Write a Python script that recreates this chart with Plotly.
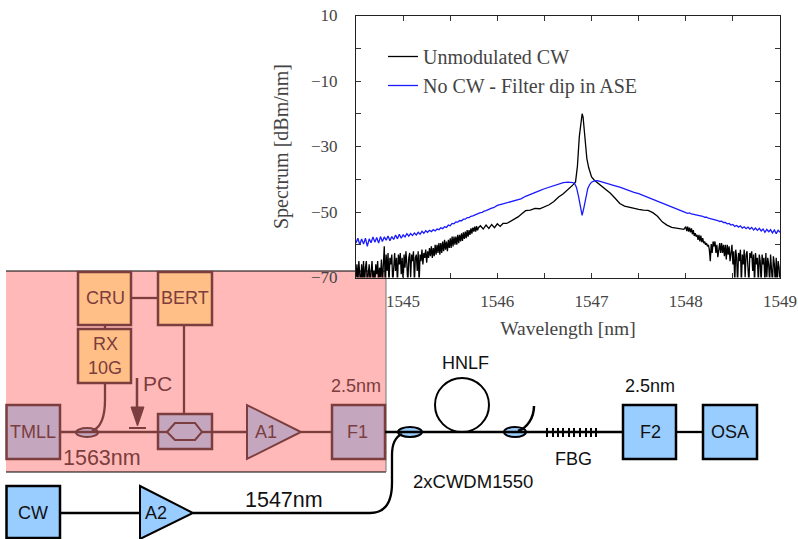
import numpy as np
import plotly.graph_objects as go

W, H = 798, 539

# ---------- spectrum data ----------
black_left_start, black_right_start, step_black = 1544.5, 1548.0, 0.01
black_left = [
 -70,-66,-72,-65,-69,-72,-66,-71,-65,-72,
 -67,-65,-72,-68,-66,-72,-67,-65,-71,-68,
 -72,-66,-69,-65,-72,-67,-70,-64.5,-72,-66,
 -60.5,-72,-63,-68,-62.5,-72,-64,-66,-63,-72,
 -65,-62.5,-68,-64,-72,-63,-66,-62.5,-69,-64,
 -72,-63,-67,-62,-66,-72,-64,-62.5,-70,-63,
 -65,-62,-72,-64,-63,-68,-62,-72,-63,-65,
 -61.5,-66,-62.5,-64,-61.5,-65.5,-62,-64,-61,-63.5,
 -60.5,-64,-61,-63.5,-60,-63,-60,-62.5,-59.5,-63,
 -59.5,-62.5,-59,-62,-58.5,-61.5,-59,-62,-58.5,-61,
 -58,-61,-57.5,-60.5,-57.5,-60,-57.5,-60,-57,-59.5,
 -57,-59,-56.5,-58.8,-56.2,-58.2,-56,-58,-55.5,-57.5,
 -55.5,-57,-55,-56.6,-54.8,-56,-54.5,-56,-54.3,-55.6,
 -54.8]
black_mid_x = [1545.82,1545.85,1545.88,1545.91,1545.94,1545.97,1546.0,1546.03,1546.06,1546.1,1546.14,1546.18,1546.22,1546.26,
 1546.3,1546.35,1546.4,1546.45,1546.5,1546.55,1546.6,1546.65,1546.7,1546.75,1546.8,1546.83,1546.85,1546.87,1546.89,1546.9,
 1546.91,1546.93,1546.94,1546.95,1546.97,1547.0,1547.03,1547.06,1547.1,1547.15,1547.2,1547.25,1547.3,1547.35,1547.4,
 1547.45,1547.5,1547.55,1547.6,1547.65,1547.7,1547.75,1547.8,1547.85,1547.9,1547.95,1547.98]
black_mid_y = [-54.2,-55.2,-54,-55,-53.8,-54.8,-53.6,-54.4,-53.5,-53.5,-52.9,-52.3,-51.5,-50.5,
 -49.6,-49.4,-48.9,-49,-48.4,-47.8,-46.8,-45.4,-44.4,-43.2,-41.8,-40.8,-36,-27,-21,-20,
 -21,-27,-30,-33.7,-36.5,-39.3,-40.3,-41,-42.2,-43.2,-44.3,-45.8,-47.4,-48.2,-48.6,
 -49,-49.2,-49.4,-49.5,-50.2,-51.3,-53,-54,-54.7,-55,-55.1,-55.3]
black_right = [
 -54.5,-55.8,-54.5,-56,-54.8,-56.2,-55,-56.8,-55.5,-57.3,
 -56.5,-57.5,-57,-58.5,-57,-59,-57.2,-59.2,-58,-59.5,
 -59,-60,-59.5,-60.5,-60,-61.5,-65,-59.8,-62.5,-59,
 -60.5,-59,-62.5,-60,-63.8,-60.5,-59.5,-62.5,-59.5,-62.5,
 -60,-63.5,-60,-64.5,-60,-63,-60.5,-65,-61,-60,
 -66,-62,-72,-61.5,-64,-72,-62.5,-65,-61.5,-72,
 -63,-66,-61.5,-70,-63,-62,-67,-72,-62.5,-64,
 -62,-68,-63,-72,-62.5,-66,-64,-72,-63,-65,
 -72,-63,-66,-64,-72,-62.5,-70,-64,-66,-72,
 -63,-67,-72,-63.5,-66,-72,-64,-72,-65,-67,
 -72]

blue_left_start, blue_right_start, step_blue = 1544.5, 1548.0, 0.02
blue_left = [
 -59.5,-58,-60,-58.2,-59.8,-58,-60.5,-58.2,-59.4,-57.6,
 -59.2,-57.8,-59.5,-57.5,-59,-57.6,-58.6,-57.3,-58.8,-57.5,
 -58.4,-57,-58.2,-56.8,-58,-57,-57.6,-56.6,-57.4,-56.6,
 -57.2,-56.4,-57,-56.2,-56.8,-55.9,-56.5,-55.7,-56.2,-55.6,
 -56,-55.4,-55.8,-55.2,-55.4,-54.8,-55.1,-54.5,-54.7,-54,
 -54.2,-53.5,-53.6,-53,-53.1,-52.6,-52.7,-52.2,-52.2,-51.7,
 -51.7,-51.3,-51.2,-50.9,-50.7,-50.5,-50.2,-50.1,-49.7,-49.6,
 -49.3,-49.1,-48.8,-48.7,-48.3]
blue_mid_x = [1546.0,1546.05,1546.1,1546.15,1546.2,1546.25,1546.3,1546.35,1546.4,1546.45,1546.5,1546.55,1546.6,1546.65,
 1546.7,1546.75,1546.8,1546.82,1546.84,1546.86,1546.88,1546.9,1546.92,1546.94,1546.96,1546.98,1547.0,1547.03,1547.06,
 1547.1,1547.15,1547.2,1547.25,1547.3,1547.35,1547.4,1547.45,1547.5,1547.55,1547.6,1547.65,1547.7,1547.75,1547.8,1547.85,1547.9,1547.95]
blue_mid_y = [-48.0,-47.6,-47.2,-46.8,-46.4,-46,-45.2,-44.7,-44,-43.5,-42.9,-42.4,-42,-41.4,
 -41,-40.9,-41,-41.3,-42.5,-45,-48.5,-51,-48.5,-45,-42.8,-41.6,-40.9,-40.5,-40.4,
 -40.7,-41.2,-41.5,-42,-42.4,-43,-43.4,-44,-44.4,-45,-45.6,-46.2,-46.8,-47.4,-47.8,-48.5,-49,-49.6]
blue_right = [
 -50.2,-50.4,-50.3,-50.6,-50.7,-50.8,-51,-51,-51.3,-51.3,
 -51.6,-51.6,-51.9,-52,-52.2,-52.2,-52.5,-52.6,-52.9,-52.8,
 -53.2,-53.2,-53.6,-53.5,-54,-53.8,-54.4,-54.1,-54.6,-54.2,
 -54.9,-54.5,-55.1,-54.6,-55.2,-54.7,-55.5,-54.9,-55.6,-55,
 -55.8,-55.2,-56.2,-55.3,-56,-55.4,-56.4,-55.5,-56.6,-55.6,-56.2]

series_names = ["Unmodulated CW", "No CW - Filter dip in ASE"]
x_ticks = [1544.5,1545,1545.5,1546,1546.5,1547,1547.5,1548,1548.5,1549]
x_labels = ["","1545","","1546","","1547","","1548","","1549"]
y_ticks = [10,0,-10,-20,-30,-40,-50,-60,-70]
y_labels = ["10","","\u221210","","\u221230","","\u221250","","\u221270"]

def grid(start, n, step):
    return list(np.round(start + step*np.arange(n), 3))

black_x = grid(black_left_start, len(black_left), step_black) + black_mid_x + grid(black_right_start, len(black_right), step_black)
black_y = black_left + black_mid_y + black_right
blue_x = grid(blue_left_start, len(blue_left), step_blue) + blue_mid_x + grid(blue_right_start, len(blue_right), step_blue)
blue_y = blue_left + blue_mid_y + blue_right

# ---------- diagram helpers (pixel positions converted to paper) ----------
def px(x): return x / W
def py(y): return 1 - y / H
def path(*cmds):
    out = []
    for c in cmds:
        if isinstance(c, str):
            out.append(c)
        else:
            out.append(f"{px(c[0]):.5f},{py(c[1]):.5f}")
    return " ".join(out)

INK = "#000000"; DIM = "#7b3d3d"
BLUE = "#99ccff"; BLEND = "#c4a6bf"; ORANGE = "#ffbf87"; PINK = "#ffb9b9"

shapes, notes = [], []
def add_path(p, color, width=2, fill=None):
    shapes.append(dict(type="path", path=p, xref="paper", yref="paper", layer="below",
                       line=dict(color=color, width=width), fillcolor=fill or "rgba(0,0,0,0)"))
def line(x0, y0, x1, y1, color, width=2.3):
    shapes.append(dict(type="line", xref="paper", yref="paper", layer="below",
                       x0=px(x0), y0=py(y0), x1=px(x1), y1=py(y1), line=dict(color=color, width=width)))
def box(x0, y0, x1, y1, color, fill):
    shapes.append(dict(type="rect", xref="paper", yref="paper", layer="below",
                       x0=px(x0), y0=py(y0), x1=px(x1), y1=py(y1), line=dict(color=color, width=2.5), fillcolor=fill))
def ell(x0, y0, x1, y1, color, fill, width=2):
    shapes.append(dict(type="circle", xref="paper", yref="paper", layer="below",
                       x0=px(x0), y0=py(y0), x1=px(x1), y1=py(y1), line=dict(color=color, width=width), fillcolor=fill))
def txt(x, y, s, color, size=18):
    notes.append(dict(text=s, xref="paper", yref="paper", x=px(x), y=py(y), xanchor="center", yanchor="middle",
                      showarrow=False, font=dict(family="Liberation Sans", size=size, color=color)))

# pink block
shapes.append(dict(type="rect", xref="paper", yref="paper", layer="below", x0=px(6), y0=py(271), x1=px(386), y1=py(472),
                   line=dict(width=0), fillcolor=PINK))
line(6, 271, 386, 271, "#000000", 1)
line(6, 472, 386, 472, "#000000", 1)
line(386, 271, 386, 472, "#777777", 1)

# dimmed (under the pink) part
ell(76, 428, 98, 437, DIM, BLEND)
line(60, 432, 158, 432, DIM); line(212, 432, 247, 432, DIM); line(301, 432, 332, 432, DIM)
line(131, 298, 158, 298, DIM); line(105, 325, 105, 329, DIM); line(184, 325, 184, 414, DIM)
add_path(path("M", (105, 383), "L", (105, 400), "C", (105, 418), (100, 428), (92, 431)), DIM, 2.3)
box(78, 272, 131, 325, DIM, ORANGE); box(158, 272, 212, 325, DIM, ORANGE); box(78, 329, 131, 383, DIM, ORANGE)
box(6.5, 405, 60, 459, DIM, BLEND); box(158, 414, 212, 449, DIM, BLEND); box(332, 405, 385, 459, DIM, BLEND)
line(158, 432, 167, 432, DIM); line(202, 432, 212, 432, DIM)
add_path(path("M", (167, 432), "L", (175, 423), "L", (195, 423), "L", (202, 432), "L", (195, 440), "L", (175, 440), "Z"), DIM, 2, BLEND)
add_path(path("M", (247, 405), "L", (247, 459), "L", (301, 432), "Z"), DIM, 2, BLEND)
line(137, 378, 137, 408, DIM, 2.5)
add_path(path("M", (131, 407), "L", (144, 407), "L", (137.5, 426), "Z"), DIM, 1, DIM)
line(129, 428, 146, 428, DIM, 2)

# solid part
ell(435, 378, 489, 432, INK, "rgba(0,0,0,0)")
ell(398, 427, 422, 437, INK, BLUE); ell(504, 427, 526, 437, INK, BLUE)
line(385, 432, 623, 432, INK); line(60, 513, 140, 513, INK); line(676, 432, 703, 432, INK)
add_path(path("M", (193, 513), "L", (370, 513), "C", (385, 513), (392, 503), (392, 483), "L", (392, 455), "C", (392, 445), (395, 437), (402, 434)), INK, 2.3)
add_path(path("M", (518, 431), "C", (527, 428), (534, 418), (534, 406)), INK, 2.5)
for fx in [547, 553, 558, 563, 569, 574, 580, 586, 591, 596]:
    line(fx, 428, fx, 437, INK, 2)
box(6.5, 486, 60, 538, INK, BLUE); box(623, 405, 676, 459, INK, BLUE); box(703, 405, 757, 459, INK, BLUE)
add_path(path("M", (140, 486), "L", (140, 539), "L", (193, 513), "Z"), INK, 2, BLUE)

for (x, y, s) in [(105, 298, "CRU"), (185, 298, "BERT"), (105, 344, "RX"), (105, 368, "10G"), (33, 432, "TMLL"), (266, 432, "A1"), (357, 432, "F1")]:
    txt(x, y, s, DIM)
txt(157, 383, "PC", DIM, 21); txt(102, 458, "1563nm", DIM, 21.5); txt(356, 386, "2.5nm", DIM)
for (x, y, s) in [(33, 513, "CW"), (156, 513, "A2"), (465, 363, "HNLF"), (650, 386, "2.5nm"), (573, 459, "FBG"), (650, 432, "F2"), (730, 432, "OSA")]:
    txt(x, y, s, "#111111")
txt(473, 481, "2xCWDM1550", "#111111", 18.5)
txt(283.5, 500, "1547nm", "#111111", 21.5)

SERIF = "Liberation Serif"
GREY = "#444444"
fig = go.Figure()
fig.add_trace(go.Scatter(x=black_x, y=black_y, mode="lines", name=series_names[0], legendgroup="a", line=dict(color="#000000", width=1.3)))
fig.add_trace(go.Scatter(x=blue_x, y=blue_y, mode="lines", name=series_names[1], legendgroup="b", line=dict(color="#1a1aff", width=1.3)))
fig.update_layout(
    width=W, height=H, autosize=False, margin=dict(l=0, r=0, t=0, b=0, autoexpand=False),
    paper_bgcolor="white", plot_bgcolor="rgba(0,0,0,0)", shapes=shapes, annotations=notes,
    font=dict(family=SERIF, size=17, color=GREY),
    legend=dict(x=px(383), y=py(37), xanchor="left", yanchor="top", bgcolor="rgba(0,0,0,0)", tracegroupgap=0,
                font=dict(family=SERIF, size=20, color=GREY), itemwidth=30),
    xaxis=dict(domain=[px(356), px(780)], range=[1544.5, 1549], tickmode="array", tickvals=x_ticks, ticktext=x_labels,
               ticks="inside", ticklen=5, tickcolor="#333333", mirror="allticks", showline=True, linecolor="#222222", linewidth=1,
               showgrid=False, zeroline=False, ticklabelstandoff=8,
               title=dict(text="Wavelength [nm]", standoff=11, font=dict(family=SERIF, size=19.5, color=GREY))),
    yaxis=dict(domain=[py(277.5), py(15.5)], range=[-70, 10], tickmode="array", tickvals=y_ticks, ticktext=y_labels,
               ticks="inside", ticklen=5, tickcolor="#333333", mirror="allticks", showline=True, linecolor="#222222", linewidth=1,
               showgrid=False, zeroline=False, ticklabelstandoff=14,
               title=dict(text="Spectrum [dBm/nm]", standoff=17, font=dict(family=SERIF, size=20, color=GREY))),
)
fig.write_html("out.html", config={"displayModeBar": False},
               post_script="document.body.style.margin='0';document.body.style.overflow='hidden';")
